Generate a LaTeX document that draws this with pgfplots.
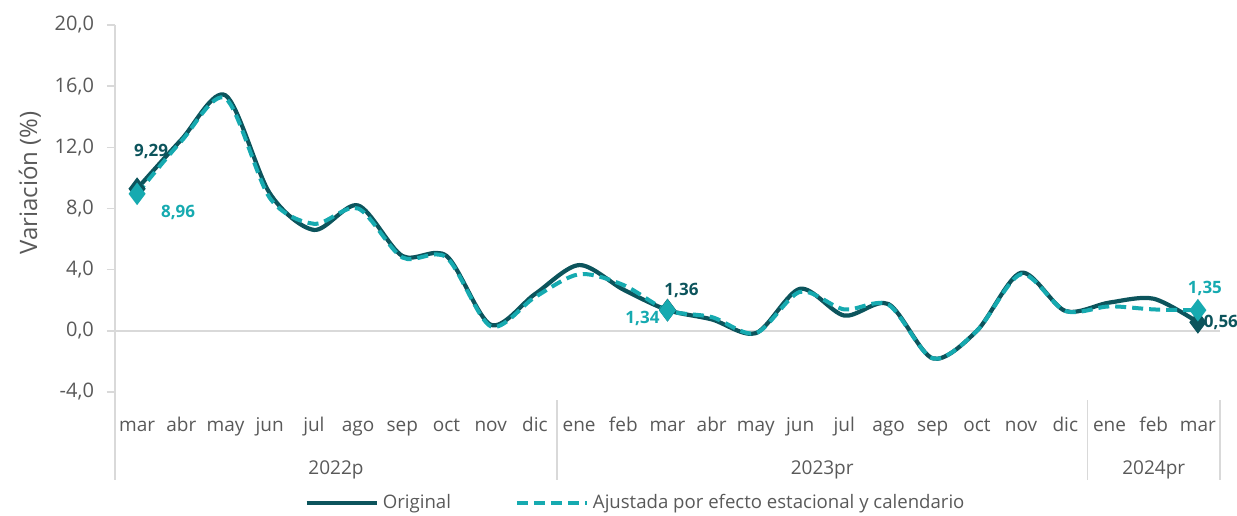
\documentclass[border=0pt]{standalone}
\usepackage{fontspec}
\setmainfont{Open Sans}
\usepackage{pgfplots}
\pgfplotsset{compat=1.18}
\definecolor{OrigDark}{RGB}{12,84,92}
\definecolor{AjTeal}{RGB}{22,170,176}
\definecolor{TxtGray}{RGB}{89,89,89}
\definecolor{LineGray}{RGB}{217,217,217}

\begin{document}
\begin{tikzpicture}
\begin{axis}[
  scale only axis,
  width=552.5pt, height=183.5pt,
  xmin=-0.5, xmax=24.5, ymin=-4, ymax=20,
  clip=false,
  axis y line*=left, axis x line*=bottom,
  x axis line style={draw=none},
  y axis line style={draw=LineGray, line width=0.8pt},
  tick align=outside,
  ytick={-4,0,4,8,12,16,20},
  yticklabels={{-4,0},{0,0},{4,0},{8,0},{12,0},{16,0},{20,0}},
  ytick style={draw=LineGray, line width=0.8pt},
  major tick length=4pt,
  yticklabel style={font=\fontsize{10}{12}\selectfont, text=TxtGray, xshift=-3pt},
  xtick={0,...,24},
  xticklabels={mar,abr,may,jun,jul,ago,sep,oct,nov,dic,ene,feb,mar,abr,may,jun,jul,ago,sep,oct,nov,dic,ene,feb,mar},
  xtick style={draw=none},
  xticklabel style={font=\fontsize{9.5}{11}\selectfont, text=TxtGray, anchor=base, yshift=-15.5pt},
  extra y ticks={0},
  extra y tick labels={},
  extra y tick style={grid=major, major grid style={draw=LineGray, line width=0.8pt}, tick style={draw=none}},
  ylabel={Variación (\%)},
  every axis y label/.style={at={(axis description cs:-0.077,0.57)}, rotate=90, anchor=center,
    font=\fontsize{12}{14}\selectfont, text=TxtGray},
  legend style={at={(axis description cs:0.472,-0.302)}, anchor=center, legend columns=2,
    draw=none, fill=none, font=\fontsize{9.3}{11}\selectfont, text=TxtGray,
    /tikz/every even column/.append style={column sep=30pt}},
  legend image code/.code={\draw[#1,mark=none] (0pt,0pt) -- (35pt,0pt);},
  legend cell align=left,
]
\addplot[OrigDark, line width=2.1pt, smooth, mark=diamond*, mark size=4pt, mark indices={1,13,25},
  mark options={solid, fill=OrigDark}]
  coordinates {(0,9.29)(1,12.5)(2,15.4)(3,9.0)(4,6.6)(5,8.2)(6,4.9)(7,4.9)(8,0.4)(9,2.4)
  (10,4.3)(11,2.7)(12,1.36)(13,0.75)(14,-0.15)(15,2.75)(16,1.0)(17,1.75)(18,-1.8)(19,0.0)(20,3.8)(21,1.3)
  (22,1.85)(23,2.1)(24,0.56)};
\addplot[AjTeal, line width=2pt, smooth, dash pattern=on 5.5pt off 3pt, mark=diamond*, mark size=4pt,
  mark indices={1,13,25}, mark options={solid, fill=AjTeal}]
  coordinates {(0,8.96)(1,12.4)(2,15.2)(3,8.7)(4,7.0)(5,8.0)(6,4.8)(7,4.8)(8,0.3)(9,2.2)
  (10,3.7)(11,3.0)(12,1.34)(13,0.9)(14,-0.15)(15,2.55)(16,1.4)(17,1.7)(18,-1.8)(19,0.0)(20,3.7)(21,1.3)
  (22,1.6)(23,1.4)(24,1.35)};
\legend{Original, Ajustada por efecto estacional y calendario}

% data labels
\node[font=\bfseries\fontsize{8.5}{10}\selectfont, text=OrigDark] at (axis cs:0,9.29) [xshift=7pt, yshift=18.5pt] {9,29};
\node[font=\bfseries\fontsize{8.5}{10}\selectfont, text=AjTeal] at (axis cs:0,8.96) [xshift=20.5pt, yshift=-9.5pt] {8,96};
\node[font=\bfseries\fontsize{8.5}{10}\selectfont, text=OrigDark] at (axis cs:12,1.36) [xshift=7pt, yshift=10pt] {1,36};
\node[font=\bfseries\fontsize{8.5}{10}\selectfont, text=AjTeal] at (axis cs:12,1.34) [xshift=-12.5pt, yshift=-4pt] {1,34};
\node[font=\bfseries\fontsize{8.5}{10}\selectfont, text=AjTeal] at (axis cs:24,1.35) [xshift=3.5pt, yshift=11pt] {1,35};
\node[font=\bfseries\fontsize{8.5}{10}\selectfont, text=OrigDark] at (axis cs:24,0.56) [xshift=11.5pt] {0,56};

% group separators and year labels
\draw[LineGray, line width=0.8pt] (axis cs:-0.5,-4) -- ++(0pt,-44pt);
\draw[LineGray, line width=0.8pt] (axis cs:9.5,-4) ++(0pt,-4pt) -- ++(0pt,-40pt);
\draw[LineGray, line width=0.8pt] (axis cs:21.5,-4) ++(0pt,-4pt) -- ++(0pt,-40pt);
\draw[LineGray, line width=0.8pt] (axis cs:24.5,-4) ++(0pt,-4pt) -- ++(0pt,-40pt);
\node[font=\fontsize{9.5}{11}\selectfont, text=TxtGray, anchor=base] at (axis cs:4.5,-4) [yshift=-41pt] {2022p};
\node[font=\fontsize{9.5}{11}\selectfont, text=TxtGray, anchor=base] at (axis cs:15.5,-4) [yshift=-41pt] {2023pr};
\node[font=\fontsize{9.5}{11}\selectfont, text=TxtGray, anchor=base] at (axis cs:23,-4) [yshift=-41pt] {2024pr};
\end{axis}
\pgfresetboundingbox
\path[use as bounding box] (-57.5pt,-61.5pt) rectangle (561pt,196pt);
\end{tikzpicture}
\end{document}
